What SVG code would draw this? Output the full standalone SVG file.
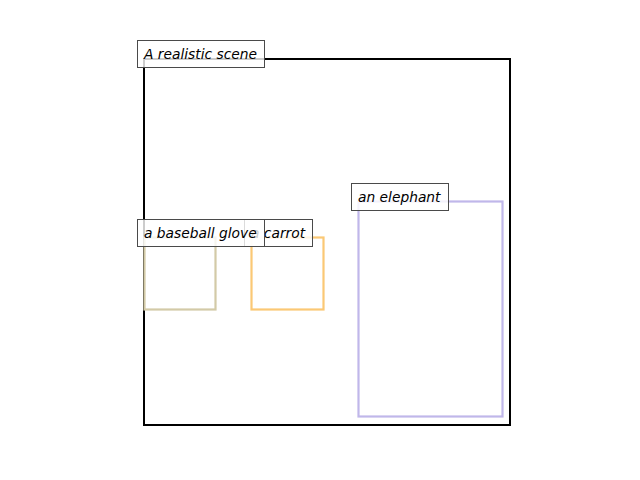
<svg xmlns="http://www.w3.org/2000/svg" width="640" height="480" viewBox="0 0 640 480">
<style>
.lbl{fill:#ffffff;fill-opacity:0.8;stroke:#4a4a4a;stroke-width:1}
.t{font-family:"DejaVu Sans",sans-serif;font-style:italic;font-size:13.8px;fill:#000}
.box{fill:none;stroke-width:2.2}
</style>
<rect width="640" height="480" fill="#fff"/>
<g id="scene">
<rect x="144" y="59" width="366" height="366" fill="none" stroke="#000" stroke-width="2"/>
</g>
<g id="glove">
<rect class="box" x="144.5" y="237.5" width="71" height="72" stroke="#d3caa7"/>
</g>
<g id="carrot">
<rect class="box" x="251.5" y="237.5" width="72" height="72" stroke="#fbc875"/>
</g>
<g id="elephant">
<rect class="box" x="358.5" y="201.5" width="144" height="215" stroke="#c0b7ea"/>
</g>
<g id="labels">
<g id="label-scene">
<rect class="lbl" x="137.5" y="40.5" width="127" height="27"/>
<text class="t" x="144" y="58.5">A realistic scene</text>
</g>
<g id="label-carrot">
<rect class="lbl" x="244.5" y="219.5" width="68" height="27"/>
<text class="t" x="251" y="237.5">a carrot</text>
</g>
<g id="label-glove">
<rect class="lbl" x="137.5" y="219.5" width="127" height="27"/>
<text class="t" x="144" y="237.5">a baseball glove</text>
</g>
<g id="label-elephant">
<rect class="lbl" x="351.5" y="183.5" width="97" height="27"/>
<text class="t" x="358" y="201.5">an elephant</text>
</g>
</g>
</svg>
